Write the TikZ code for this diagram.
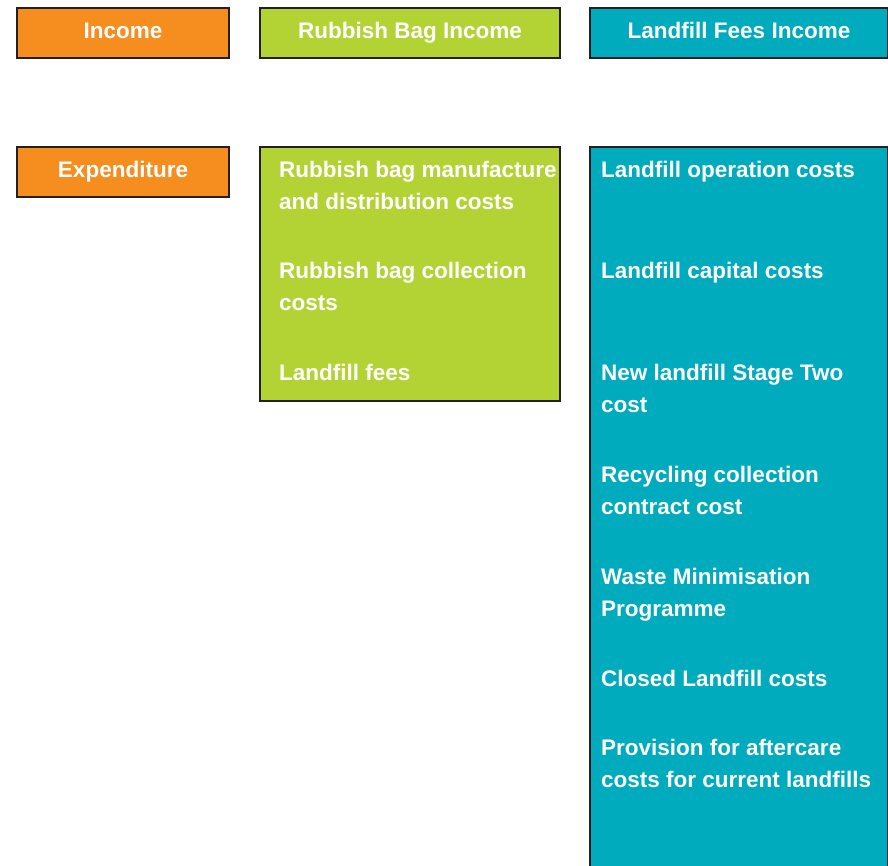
\documentclass[tikz,border=0pt]{standalone}
\usepackage{fontspec}
\setmainfont{Liberation Sans}
\usetikzlibrary{positioning}
\definecolor{cOrange}{RGB}{245,141,31}
\definecolor{cGreen}{RGB}{179,211,53}
\definecolor{cTeal}{RGB}{0,171,189}
\definecolor{cEdge}{RGB}{35,31,32}
\tikzset{
	hdr/.style    ={rectangle, draw=cEdge, line width=2pt, anchor=north west, inner sep=0pt, text height=16.5pt, text depth=5pt, font=\bfseries\fontsize{22.5}{32}\selectfont, text=white},
	item/.style   ={anchor=base west, align=left, inner sep=0pt, font=\bfseries\fontsize{22.5}{32}\selectfont, text=white},
}
\begin{document}
\begin{tikzpicture}[x=1pt, y=-1pt]
	\useasboundingbox (0,0) rectangle (888,865);
	\clip (0,0) rectangle (888,865);
	% top row
	\node[hdr, fill=cOrange, minimum width=212pt, minimum height=50pt] (income) at (16,7) {Income};
	\node[hdr, fill=cGreen, minimum width=300pt, minimum height=50pt] (bagIncome) at (259,7) {Rubbish Bag Income};
	\node[hdr, fill=cTeal, minimum width=298pt, minimum height=50pt] (feeIncome) at (589,7) {Landfill Fees Income};
	% second row
	\node[hdr, fill=cOrange, minimum width=212pt, minimum height=50pt] (expend) at (16,146) {Expenditure};
	\node[hdr, fill=cGreen, minimum width=300pt, minimum height=254pt] (bagCosts) at (259,146) {};
	\node[hdr, fill=cTeal, minimum width=298pt, minimum height=760pt] (feeCosts) at (589,146) {};
	% rubbish bag items (y = baseline of last line)
	\foreach \n/\y/\l in {
		1/209/{Rubbish bag manufacture\\and distribution costs},
		2/310/{Rubbish bag collection\\costs},
		3/380/{Landfill fees}} {
		\node[item] (bag\n) at (279,\y) {\l};
	}
	% landfill fee items
	\foreach \n/\y/\l in {
		1/177/{Landfill operation costs},
		2/278/{Landfill capital costs},
		3/412/{New landfill Stage Two\\cost},
		4/514/{Recycling collection\\contract cost},
		5/616/{Waste Minimisation\\Programme},
		6/686/{Closed Landfill costs},
		7/787/{Provision for aftercare\\costs for current landfills}} {
		\node[item] (fee\n) at (601,\y) {\l};
	}
\end{tikzpicture}
\end{document}
